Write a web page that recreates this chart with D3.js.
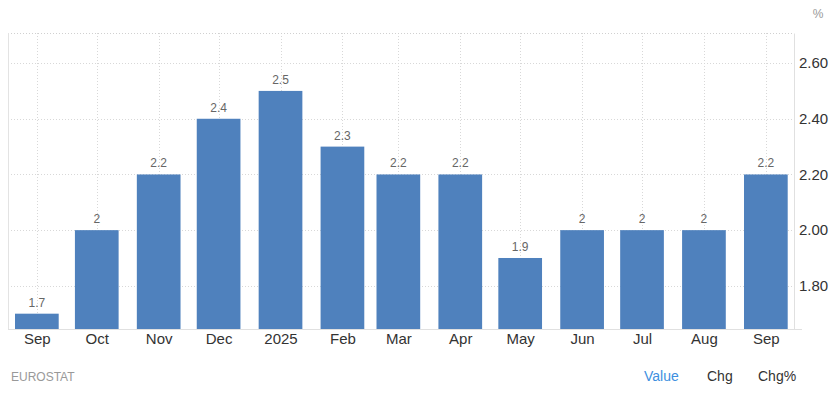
<!DOCTYPE html>
<html>
<head>
<meta charset="utf-8">
<script src="https://cdn.jsdelivr.net/npm/d3@7"></script>
<style>
  body { margin: 0; background: #fff; font-family: Arial, "Liberation Sans", sans-serif; }
</style>
</head>
<body>
<script>
var outerWidth = 834, outerHeight = 395;

// data (monthly, first of month)
var dates = ["2024-09-01", "2024-10-01", "2024-11-01", "2024-12-01", "2025-01-01", "2025-02-01",
  "2025-03-01", "2025-04-01", "2025-05-01", "2025-06-01", "2025-07-01", "2025-08-01", "2025-09-01"];
var months = ["Sep", "Oct", "Nov", "Dec", "2025", "Feb", "Mar", "Apr", "May", "Jun", "Jul", "Aug", "Sep"];
var values = [1.7, 2, 2.2, 2.4, 2.5, 2.3, 2.2, 2.2, 1.9, 2, 2, 2, 2.2];
var yTicks = [1.8, 2.0, 2.2, 2.4, 2.6];
var tabs = ["Value", "Chg", "Chg%"];

var parse = d3.utcParse("%Y-%m-%d");
var data = dates.map(function (d, i) { return { date: parse(d), label: months[i], value: values[i] }; });

var plot = { left: 8, right: 794, top: 33, bottom: 329 };
var barWidth = 43.7;

var x = d3.scaleUtc()                   // bars are spaced by calendar days
  .domain([data[0].date, data[data.length - 1].date])
  .range([36.85, 765.85]);

var y = d3.scaleLinear()
  .domain([1.645, 2.708])
  .range([plot.bottom, plot.top]);

var svg = d3.select("body").append("svg")
  .attr("width", outerWidth)
  .attr("height", outerHeight);

// horizontal gridlines (dotted)
svg.append("g").selectAll("line")
  .data(yTicks)
  .enter().append("line")
  .attr("x1", plot.left).attr("x2", plot.right)
  .attr("y1", function (d) { return Math.round(y(d)) + 0.5; })
  .attr("y2", function (d) { return Math.round(y(d)) + 0.5; })
  .style("stroke", "#d8d8d8")
  .style("stroke-dasharray", "1,2");

// vertical gridlines at each month
svg.append("g").selectAll("line")
  .data(data)
  .enter().append("line")
  .attr("x1", function (d) { return Math.round(x(d.date)) + 0.5; })
  .attr("x2", function (d) { return Math.round(x(d.date)) + 0.5; })
  .attr("y1", plot.top).attr("y2", plot.bottom)
  .style("stroke", "#d8d8d8")
  .style("stroke-dasharray", "1,2");

// top dotted border
svg.append("line")
  .attr("x1", plot.left).attr("x2", plot.right)
  .attr("y1", plot.top + 0.5).attr("y2", plot.top + 0.5)
  .style("stroke", "#d0d0d0")
  .style("stroke-dasharray", "1,2");

// left border
svg.append("line")
  .attr("x1", plot.left + 0.5).attr("x2", plot.left + 0.5)
  .attr("y1", plot.top).attr("y2", plot.bottom)
  .style("stroke", "#e3e3e3");

// bars
svg.append("g").selectAll("rect")
  .data(data)
  .enter().append("rect")
  .attr("x", function (d) { return x(d.date) - barWidth / 2; })
  .attr("width", barWidth)
  .attr("y", function (d) { return y(d.value); })
  .attr("height", function (d) { return plot.bottom - y(d.value); })
  .style("fill", "#4f81bd");

// value labels
svg.append("g").selectAll("text")
  .data(data)
  .enter().append("text")
  .attr("x", function (d) { return x(d.date); })
  .attr("y", function (d) { return y(d.value) - 7; })
  .attr("text-anchor", "middle")
  .style("font-size", "12px")
  .style("fill", "#666")
  .text(function (d) { return d.value; });

// right axis
var yAxis = d3.axisRight(y)
  .tickValues(yTicks)
  .tickSize(0)
  .tickPadding(5)
  .tickFormat(d3.format(".2f"));

var ya = svg.append("g")
  .attr("transform", "translate(" + plot.right + ",0)")
  .call(yAxis);
ya.select(".domain").attr("stroke", "#e0e0e0");
ya.selectAll("text")
  .style("font-size", "15px")
  .style("font-family", "Arial, 'Liberation Sans', sans-serif")
  .style("fill", "#333");

// bottom axis
var xAxis = d3.axisBottom(x)
  .tickValues(data.map(function (d) { return d.date; }))
  .tickSize(0)
  .tickPadding(4)
  .tickFormat(function (t, i) { return months[i]; });

var xa = svg.append("g")
  .attr("transform", "translate(0," + plot.bottom + ")")
  .call(xAxis);
xa.select(".domain").attr("stroke", "#e0e0e0").attr("d", "M" + plot.left + ",0.5H" + (plot.right + 8));
xa.selectAll("text")
  .style("font-size", "15px")
  .style("font-family", "Arial, 'Liberation Sans', sans-serif")
  .style("fill", "#333");

// unit
svg.append("text")
  .attr("x", 818).attr("y", 18)
  .attr("text-anchor", "middle")
  .style("font-size", "12px")
  .style("fill", "#999")
  .text("%");

// source
svg.append("text")
  .attr("x", 11).attr("y", 381)
  .style("font-size", "12px")
  .style("fill", "#999")
  .text("EUROSTAT");

// tabs
var tabX = [644, 707, 758];
svg.append("g").selectAll("text")
  .data(tabs)
  .enter().append("text")
  .attr("x", function (d, i) { return tabX[i]; })
  .attr("y", 381)
  .style("font-size", "14px")
  .style("fill", function (d, i) { return i === 0 ? "#3d8fe0" : "#333"; })
  .text(function (d) { return d; });
</script>
</body>
</html>
